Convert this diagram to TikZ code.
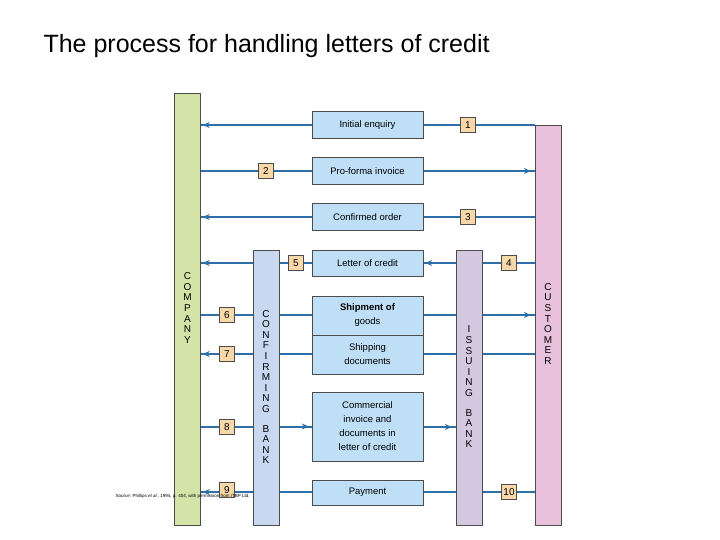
\documentclass[tikz,border=0pt]{standalone}
\usepackage{fontspec}
\setmainfont{Liberation Sans}
\usetikzlibrary{arrows.meta,backgrounds}
\definecolor{flowblue}{HTML}{2E6FA8}
\definecolor{boxblue}{HTML}{BFDFF7}
\definecolor{numtan}{HTML}{F8D8A8}
\definecolor{compgreen}{HTML}{D4E4A8}
\definecolor{confblue}{HTML}{C8D8F0}
\definecolor{issuviolet}{HTML}{D4C8E0}
\definecolor{custpink}{HTML}{E8C0DC}
\tikzset{
  bar/.style={draw=black!70,minimum width=26pt,anchor=north},
  stage/.style={draw=black!70,fill=boxblue,minimum width=111pt,font=\fontsize{9.5}{14}\selectfont,align=center,inner sep=1pt},
  num/.style={draw=black!70,fill=numtan,minimum size=15pt,inner sep=0pt,font=\fontsize{10}{10}\selectfont},
  flow/.style={flowblue,line width=1.2pt},
  tip/.style={flowblue,line width=1.2pt,-{Stealth[length=7pt,width=6pt]}},
  vlab/.style={align=center,font=\fontsize{10}{10.6}\selectfont}
}
\begin{document}
\begin{tikzpicture}[x=1pt,y=-1pt]
    \useasboundingbox (0,0) rectangle (720,540);
    % title
    \node[anchor=west,font=\fontsize{25}{30}\selectfont] (title) at (40,46) {The process for handling letters of credit};

    % bars
    \node[bar,fill=compgreen,minimum height=432pt] (comp) at (187.5,93) {};
    \node[bar,fill=confblue,minimum height=275pt] (conf) at (266,250) {};
    \node[bar,fill=issuviolet,minimum height=275pt] (issu) at (469,250) {};
    \node[bar,fill=custpink,minimum height=400pt] (cust) at (548,125) {};
    \node[vlab] (compl) at (187.5,308) {C\\O\\M\\P\\A\\N\\Y};
    \node[vlab] (confl) at (266,387) {C\\O\\N\\F\\I\\R\\M\\I\\N\\G\\[9pt]B\\A\\N\\K};
    \node[vlab] (issul) at (469,387) {I\\S\\S\\U\\I\\N\\G\\[9pt]B\\A\\N\\K};
    \node[vlab] (custl) at (548,324) {C\\U\\S\\T\\O\\M\\E\\R};

    % stages
    \node[stage,minimum height=27pt] (s1) at (367.5,125) {Initial enquiry};
    \node[stage,minimum height=27pt] (s2) at (367.5,171) {Pro-forma invoice};
    \node[stage,minimum height=27pt] (s3) at (367.5,217) {Confirmed order};
    \node[stage,minimum height=26pt] (s4) at (367.5,263) {Letter of credit};
    \node[stage,minimum height=39pt] (s6) at (367.5,315.5) {\textbf{Shipment of}\\goods};
    \node[stage,minimum height=39pt] (s7) at (367.5,354.5) {Shipping\\documents};
    \node[stage,minimum height=69pt] (s8) at (367.5,426.5) {Commercial\\invoice and\\documents in\\letter of credit};
    \node[stage,minimum height=25pt] (s9) at (367.5,492.5) {Payment};

    % numbers
    \node[num] (n1) at (468,125) {1};
    \node[num] (n2) at (266,171) {2};
    \node[num] (n3) at (468,217) {3};
    \node[num] (n4) at (509,263) {4};
    \node[num] (n5) at (296,263) {5};
    \node[num] (n6) at (227,315) {6};
    \node[num] (n7) at (227,354) {7};
    \node[num] (n8) at (227,427) {8};
    \node[num] (n9) at (227,490) {9};
    \node[num] (n10) at (509,492) {10};

    % source
    \node[anchor=west,font=\fontsize{4.5}{4.5}\selectfont] (src) at (112,496) {Source: Phillips \textit{et al.}, 1994, p. 404, with permission from ITBP Ltd.};

    % flows
    \begin{scope}[on background layer]
    \foreach \y/\c in {125/a,171/b,217/c,315/f,354/g,492/j} {
        \coordinate (l\c) at (comp.east |- 0,\y);
        \coordinate (r\c) at (cust.west |- 0,\y);
        \draw[flow] (l\c) -- (r\c);
    }
    \coordinate (ld) at (comp.east |- 0,263);
    \coordinate (rd) at (cust.west |- 0,263);
    \draw[flow,line width=1.8pt] (ld) -- (rd);
    \coordinate (lh) at (comp.east |- 0,427);
    \coordinate (rh) at (issu.west |- 0,427);
    \draw[flow] (lh) -- (rh);
    \end{scope}
    \draw[tip] ([xshift=12pt]la) -- ([xshift=2pt]la);
    \draw[tip] ([xshift=-14pt]rb) -- ([xshift=-4pt]rb);
    \draw[tip] ([xshift=12pt]lc) -- ([xshift=2pt]lc);
    \draw[tip,line width=1.8pt] ([xshift=12pt]ld) -- ([xshift=2pt]ld);
    \draw[tip,line width=1.8pt] ([xshift=14pt]s4.east) -- ([xshift=2pt]s4.east);
    \draw[tip] ([xshift=-14pt]rf) -- ([xshift=-4pt]rf);
    \draw[tip] ([xshift=12pt]lg) -- ([xshift=2pt]lg);
    \draw[tip] ([xshift=-14pt]s8.west) -- ([xshift=-3pt]s8.west);
    \draw[tip] ([xshift=-14pt]rh) -- ([xshift=-4pt]rh);
    \draw[tip] ([xshift=12pt]lj) -- ([xshift=2pt]lj);
\end{tikzpicture}
\end{document}
